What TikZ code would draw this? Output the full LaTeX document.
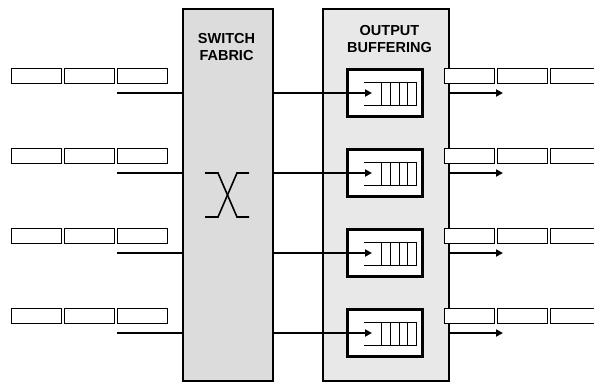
\documentclass[tikz,border=0pt]{standalone}
\usepackage{fontspec}
\setmainfont{Liberation Sans}[BoldFont={Liberation Sans Bold}]
\usetikzlibrary{arrows.meta}
\definecolor{fabricgray}{HTML}{DCDCDC}
\definecolor{buffgray}{HTML}{E8E8E8}
\tikzset{
  bigbox/.style={draw=black, line width=2pt, inner sep=0pt, anchor=north west},
  cell/.style={draw=black, fill=white, line width=1pt, minimum width=50pt, minimum height=15pt, inner sep=0pt, anchor=north west},
  qbox/.style={draw=black, fill=white, line width=2.6pt, minimum width=75pt, minimum height=47pt, inner sep=0pt},
  link/.style={line width=2pt},
  arr/.style={line width=2pt, -{Triangle[length=7pt,width=7pt]}},
  qline/.style={line width=1pt},
  title/.style={font=\bfseries\fontsize{14.5}{17.5}\selectfont, align=center, inner sep=0pt},
}
\begin{document}
\begin{tikzpicture}[x=1pt,y=-1pt]
\useasboundingbox (0,0) rectangle (594,381);
% big boxes
\node[bigbox, fill=fabricgray, minimum width=90pt, minimum height=372pt] (fabric) at (182,8) {};
\node[bigbox, fill=buffgray, minimum width=126pt, minimum height=372pt] (buff) at (322,8) {};
\node[title] (ft) at (226.5,47) {SWITCH\\FABRIC};
\node[title] (bt) at (389.5,39) {OUTPUT\\BUFFERING};
% switch symbol
\draw[line width=1.6pt] (205,173) -- (218,173) -- (237,217) -- (249,217);
\draw[line width=1.6pt] (205,217) -- (218,217) -- (237,173) -- (249,173);
\foreach \i/\y in {1/93,2/173,3/253,4/333}{
  % input cells
  \node[cell] (ia\i) at (11,\y-25) {};
  \node[cell] (ib\i) at (64,\y-25) {};
  \node[cell] (ic\i) at (117,\y-25) {};
  \coordinate (in\i) at (117,\y);
  \draw[link] (in\i) -- (in\i -| fabric.west);
  % queue box
  \node[qbox] (q\i) at (385,\y) {};
  \coordinate (qt\i) at (372,\y);
  \draw[arr] (fabric.east |- qt\i) -- (qt\i);
  \draw[qline] (364,\y-11) -- (416,\y-11) -- (416,\y+12) -- (364,\y+12);
  \foreach \x in {381,390,399,407}{\draw[qline] (\x,\y-11) -- (\x,\y+12);}
  % output cells
  \node[cell] (oa\i) at (444,\y-25) {};
  \node[cell] (ob\i) at (496.5,\y-25) {};
  \node[cell] (oc\i) at (550,\y-25) {};
  \coordinate (out\i) at (503,\y);
  \draw[arr] (buff.east |- out\i) -- (out\i);
}
\end{tikzpicture}
\end{document}
